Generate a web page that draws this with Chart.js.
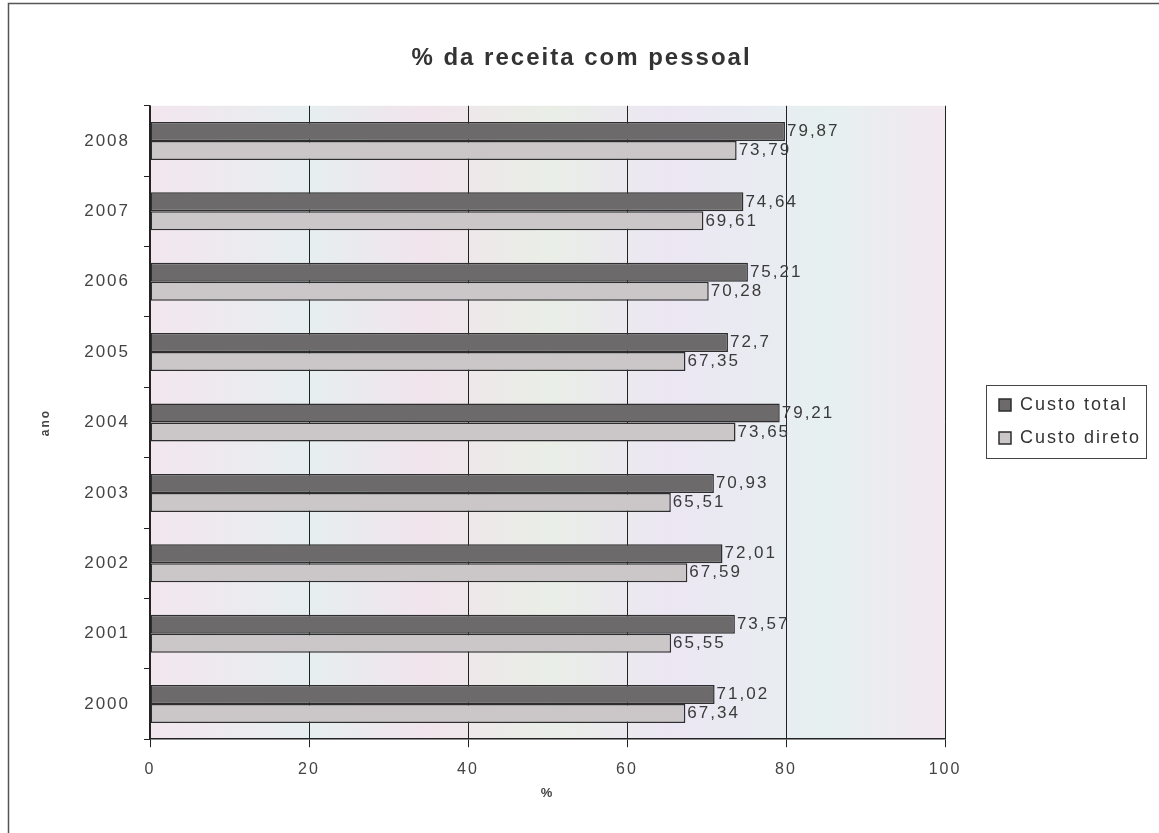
<!DOCTYPE html>
<html>
<head>
<meta charset="utf-8">
<script src="https://cdn.jsdelivr.net/npm/chart.js@4.4.1/dist/chart.umd.min.js"></script>
<style>
  html, body { margin: 0; padding: 0; background: #fff; }
  #wrap { width: 1159px; height: 833px; }
</style>
</head>
<body>
<div id="wrap"><canvas id="grafico"></canvas></div>
<script>
// dados
const anos = ['2000', '2001', '2002', '2003', '2004', '2005', '2006', '2007', '2008'];
const custoTotal = [71.02, 73.57, 72.01, 70.93, 79.21, 72.7, 75.21, 74.64, 79.87];
const custoDireto = [67.34, 65.55, 67.59, 65.51, 73.65, 67.35, 70.28, 69.61, 73.79];
const ticksX = [0, 20, 40, 60, 80, 100];

const FONTE = 'Arial, "Liberation Sans", sans-serif';

// o texto original é bem espaçado
function espacar(chart) {
    chart.ctx.letterSpacing = '2px';
}
const espacoPlugin = {
    id: 'espaco',
    beforeInit: espacar,
    beforeUpdate: espacar,
    resize: espacar,
    beforeDraw: espacar,
    beforeLayout(chart) {
        espacar(chart);
        // legenda com largura fixa, para a área do gráfico acabar no 100
        const lg = chart.legend;
        if (lg && !lg._larguraFixa) {
            const fitOriginal = lg.fit;
            lg.fit = function () {
                fitOriginal.call(this);
                this.width = 210;
            };
            lg._larguraFixa = true;
        }
    },
    afterLayout(chart) {
        // empurra os itens da legenda para a direita e um pouco para baixo
        const lg = chart.legend;
        lg.left += 39;
        lg.right += 39;
        lg.top += 11;
        lg.bottom += 11;
    }
};

// fundo do gráfico + moldura
const fundoPlugin = {
    id: 'fundo',
    beforeDraw(chart) {
        const ctx = chart.ctx;
        const a = chart.chartArea;
        ctx.save();
        ctx.strokeStyle = '#555';
        ctx.lineWidth = 1.5;
        ctx.beginPath();
        ctx.moveTo(8.5, chart.height);
        ctx.lineTo(8.5, 3.5);
        ctx.lineTo(chart.width, 3.5);
        ctx.stroke();

        const g = ctx.createLinearGradient(a.left, 0, a.right, 0);
        g.addColorStop(0, '#f3e6ee');
        g.addColorStop(0.2, '#e6eef0');
        g.addColorStop(0.35, '#f1e4ec');
        g.addColorStop(0.5, '#e9eee6');
        g.addColorStop(0.65, '#ece6f3');
        g.addColorStop(0.85, '#e6f0f0');
        g.addColorStop(1, '#f2e8f0');
        ctx.fillStyle = g;
        ctx.fillRect(a.left, a.top, a.right - a.left, a.bottom - a.top);
        ctx.restore();
    },
    afterDraw(chart) {
        // caixa em volta da legenda
        const boxes = chart.legend.legendHitBoxes;
        if (!boxes || !boxes.length) return;
        let x0 = Infinity, y0 = Infinity, x1 = -Infinity, y1 = -Infinity;
        boxes.forEach(b => {
            x0 = Math.min(x0, b.left);
            y0 = Math.min(y0, b.top);
            x1 = Math.max(x1, b.left + b.width);
            y1 = Math.max(y1, b.top + b.height);
        });
        const ctx = chart.ctx;
        ctx.save();
        ctx.strokeStyle = '#444';
        ctx.lineWidth = 1;
        ctx.strokeRect(Math.round(x0 - 13) + 0.5, Math.round(y0 - 11) + 0.5,
            Math.round(x1 - x0 + 18), Math.round(y1 - y0 + 22));
        ctx.restore();
    }
};

// rótulos de valores na ponta das barras
const rotulosPlugin = {
    id: 'rotulos',
    afterDatasetsDraw(chart) {
        const ctx = chart.ctx;
        ctx.save();
        ctx.font = '17px ' + FONTE;
        ctx.fillStyle = '#3a3a3a';
        ctx.textAlign = 'left';
        ctx.textBaseline = 'middle';
        chart.data.datasets.forEach((ds, i) => {
            chart.getDatasetMeta(i).data.forEach((bar, j) => {
                const txt = String(ds.data[j]).replace('.', ',');
                ctx.fillText(txt, bar.x + 2, bar.y);
            });
        });
        ctx.restore();
    }
};

const ctx = document.getElementById('grafico').getContext('2d');
const grafico = new Chart(ctx, {
    type: 'bar',
    data: {
        labels: anos,
        datasets: [
            {
                label: 'Custo total',
                data: custoTotal,
                backgroundColor: '#6d6a6c',
                borderColor: '#2e2e2e',
                borderWidth: 1.5,
                borderSkipped: false,
                categoryPercentage: 0.54,
                barPercentage: 1
            },
            {
                label: 'Custo direto',
                data: custoDireto,
                backgroundColor: '#cbc7c9',
                borderColor: '#2e2e2e',
                borderWidth: 1.5,
                borderSkipped: false,
                categoryPercentage: 0.54,
                barPercentage: 1
            }
        ]
    },
    options: {
        indexAxis: 'y',
        responsive: true,
        maintainAspectRatio: false,
        animation: false,
        layout: {
            padding: { left: 8, right: 4, top: 20, bottom: 32 }
        },
        scales: {
            x: {
                min: 0,
                max: 100,
                afterBuildTicks: axis => { axis.ticks = ticksX.map(v => ({ value: v })); },
                grid: {
                    color: '#222',
                    lineWidth: 1,
                    tickLength: 8,
                    drawTicks: true
                },
                border: { color: '#222', width: 1.5 },
                ticks: {
                    color: '#444',
                    padding: 13,
                    font: { family: FONTE, size: 16 }
                },
                title: {
                    display: true,
                    text: '%',
                    color: '#444',
                    padding: { top: -7, bottom: 0 },
                    font: { family: FONTE, size: 13, weight: 'bold' }
                }
            },
            y: {
                reverse: true,
                afterFit: scale => { scale.width = 142; },
                grid: {
                    offset: true,
                    drawOnChartArea: false,
                    color: '#222',
                    tickLength: 6
                },
                border: { color: '#222', width: 1.5 },
                ticks: {
                    color: '#444',
                    padding: 14,
                    font: { family: FONTE, size: 17 }
                },
                title: {
                    display: true,
                    text: 'ano',
                    color: '#444',
                    padding: { top: 30, bottom: 0 },
                    font: { family: FONTE, size: 12, weight: 'bold' }
                }
            }
        },
        plugins: {
            title: {
                display: true,
                text: '% da receita com pessoal',
                color: '#333',
                padding: { top: 24, bottom: 33 },
                font: { family: FONTE, size: 24, weight: 'bold' }
            },
            legend: {
                position: 'right',
                labels: {
                    color: '#333',
                    boxWidth: 12,
                    boxHeight: 12,
                    padding: 15,
                    font: { family: FONTE, size: 18 }
                }
            },
            tooltip: { enabled: false }
        }
    },
    plugins: [espacoPlugin, fundoPlugin, rotulosPlugin]
});
</script>
</body>
</html>
